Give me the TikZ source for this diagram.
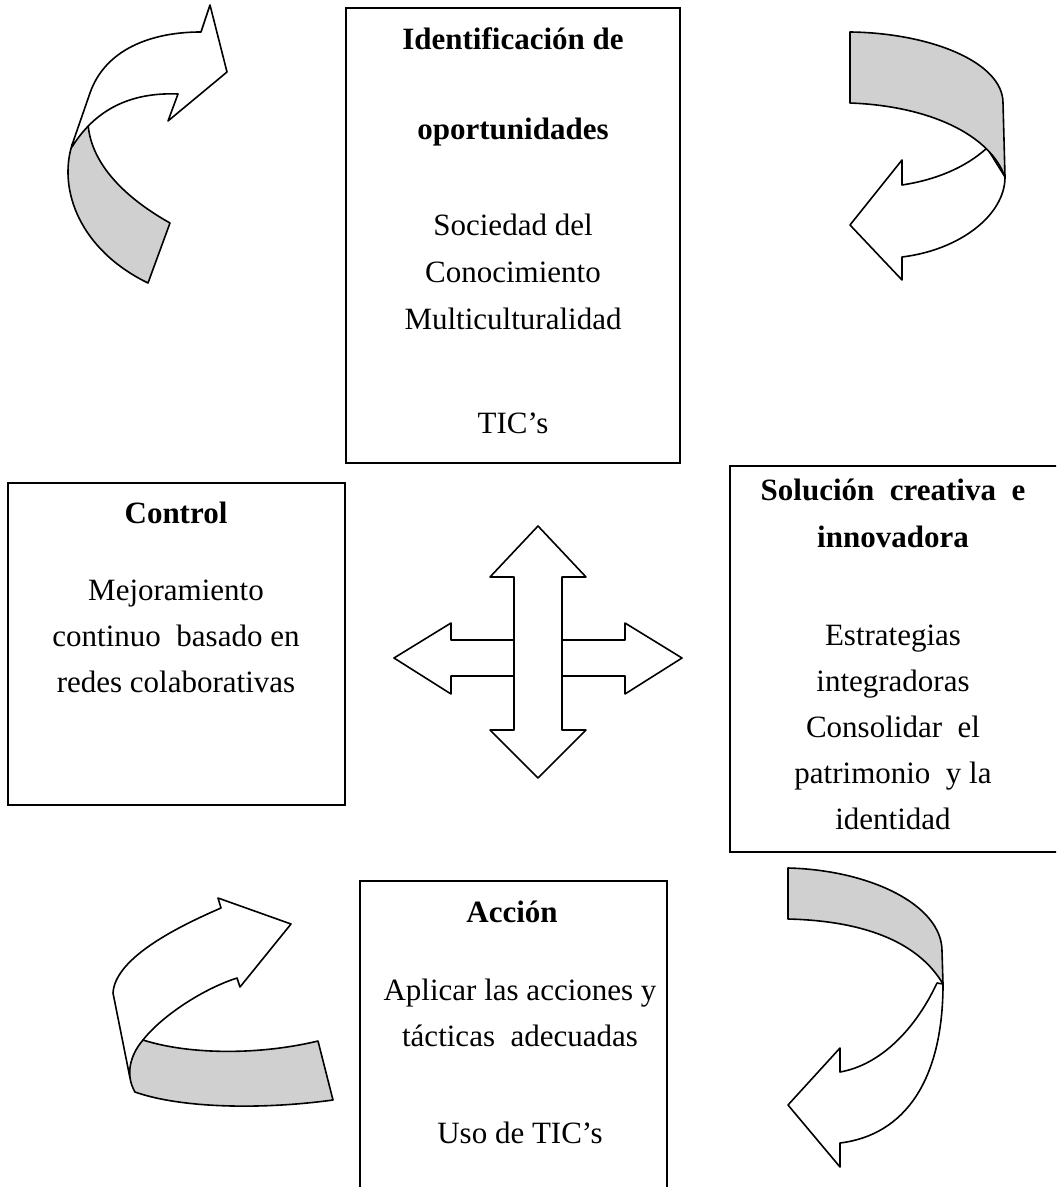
\documentclass[tikz,border=0pt]{standalone}
\usepackage{fontspec}
\setmainfont{Liberation Serif}

\definecolor{ribbon}{RGB}{208,208,208}

\tikzset{
  box/.style={draw, line width=1pt},
  txt/.style={inner sep=0pt, text height=1.5ex, text depth=.25ex, font=\fontsize{15.5}{18}\selectfont},
  head/.style={txt, font=\fontsize{15.5}{18}\selectfont\bfseries},
  band/.style={draw, line width=0.8pt, fill=ribbon, line join=round},
  flap/.style={draw, line width=0.8pt, fill=white, line join=round},
}

\begin{document}
\begin{tikzpicture}[x=0.5pt, y=-0.5pt]

\useasboundingbox (0,0) rectangle (1056,1187);
\clip (0,0) rectangle (1056,1187);

% boxes
\draw[box] (346,8) rectangle (680,463);
\draw[box] (8,483) rectangle (345,805);
\draw[box] (1070,466) -- (730,466) -- (730,852) -- (1070,852);
\draw[box] (360,1200) -- (360,881) -- (667,881) -- (667,1200);

% identificacion
\node[head] (iden1) at (513,44)  {Identificación de};
\node[head] (iden2) at (513,134) {oportunidades};
\node[txt]  (iden3) at (513,230) {Sociedad del};
\node[txt]  (iden4) at (513,277) {Conocimiento};
\node[txt]  (iden5) at (513,324) {Multiculturalidad};
\node[txt]  (iden6) at (513,428) {TIC’s};

% control
\node[head] (ctrl1) at (176,518) {Control};
\node[txt]  (ctrl2) at (176,595) {Mejoramiento};
\node[txt]  (ctrl3) at (176,641) {continuo \ basado en};
\node[txt]  (ctrl4) at (176,687) {redes colaborativas};

% solucion
\node[head] (sol1) at (893,495) {Solución \ creativa \ e};
\node[head] (sol2) at (893,542) {innovadora};
\node[txt]  (sol3) at (893,640) {Estrategias};
\node[txt]  (sol4) at (893,686) {integradoras};
\node[txt]  (sol5) at (893,732) {Consolidar \ el};
\node[txt]  (sol6) at (893,778) {patrimonio \ y la};
\node[txt]  (sol7) at (893,824) {identidad};

% accion
\node[head] (acc1) at (512,917)  {Acción};
\node[txt]  (acc2) at (520,995)  {Aplicar las acciones y};
\node[txt]  (acc3) at (520,1041) {tácticas \ adecuadas};
\node[txt]  (acc4) at (520,1138) {Uso de TIC’s};

% cross arrow
\draw[flap] (394,658) -- (451,623) -- (451,640) -- (625,640) -- (625,623) -- (682,658)
  -- (625,694) -- (625,676) -- (451,676) -- (451,694) -- cycle;
\draw[flap] (538,526) -- (586,577) -- (562,577) -- (562,730) -- (586,730) -- (538,778)
  -- (490,730) -- (514,730) -- (514,577) -- (490,577) -- cycle;

% top left
\draw[band] (72,145) .. controls (58,190) and (80,250) .. (148,283) -- (170,223)
  .. controls (120,195) and (90,160) .. (88,123) -- cycle;
\draw[flap] (72,145) -- (90,93) .. controls (105,50) and (150,32) .. (201,32) -- (210,5)
  -- (227,72) -- (168,121) -- (178,94) .. controls (130,92) and (95,110) .. (72,147) -- cycle;

% top right
\draw[flap] (987,148) .. controls (965,168) and (935,180) .. (902,185) -- (902,160)
  -- (850,225) -- (902,280) -- (902,257) .. controls (960,250) and (1005,215) .. (1005,177) -- cycle;
\draw[band] (850,32) .. controls (930,33) and (1003,62) .. (1003,103) -- (1005,177)
  .. controls (990,135) and (930,106) .. (850,103) -- cycle;

% bottom left
\draw[flap] (143,1040) .. controls (160,1018) and (200,990) .. (237,978) -- (240,987)
  -- (291,924) -- (218,898) -- (221,908) .. controls (170,930) and (115,960) .. (113,993)
  -- (130,1078) -- cycle;
\draw[band] (143,1040) .. controls (190,1055) and (260,1055) .. (318,1041) -- (333,1100)
  .. controls (260,1110) and (180,1108) .. (135,1092) .. controls (125,1075) and (130,1055) .. (143,1040) -- cycle;

% bottom right
\draw[flap] (937,983) .. controls (915,1030) and (880,1065) .. (840,1072) -- (840,1048)
  -- (788,1105) -- (840,1167) -- (840,1143) .. controls (905,1135) and (943,1080) .. (943,984) -- cycle;
\draw[band] (788,868) .. controls (870,870) and (942,905) .. (942,951) -- (943,984)
  .. controls (920,945) and (870,921) .. (788,919) -- cycle;

\end{tikzpicture}
\end{document}
